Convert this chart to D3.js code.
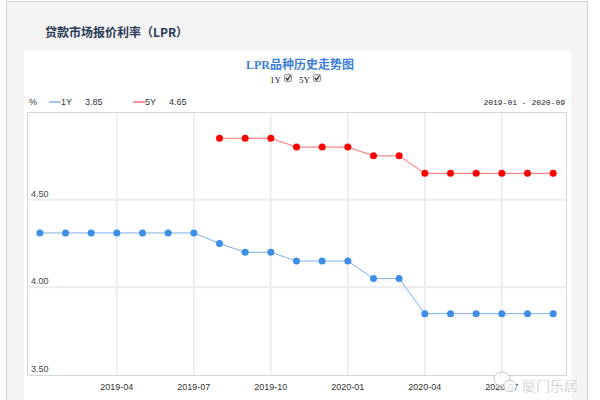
<!DOCTYPE html>
<html>
<head>
<meta charset="utf-8">
<script src="https://cdn.jsdelivr.net/npm/d3@7"></script>
<style>
  body { margin: 0; background: #fff; }
  svg { display: block; }
</style>
</head>
<body>
<div id="chart"></div>
<script>
// months shown on the x axis, one point per month
const months = ['2019-01','2019-02','2019-03','2019-04','2019-05','2019-06','2019-07',
  '2019-08','2019-09','2019-10','2019-11','2019-12','2020-01','2020-02','2020-03',
  '2020-04','2020-05','2020-06','2020-07','2020-08','2020-09'];
const lpr1y = [4.31,4.31,4.31,4.31,4.31,4.31,4.31,4.25,4.20,4.20,4.15,4.15,4.15,4.05,4.05,
  3.85,3.85,3.85,3.85,3.85,3.85];
// 5Y starts in 2019-08
const lpr5y = [null,null,null,null,null,null,null,4.85,4.85,4.85,4.80,4.80,4.80,4.75,4.75,
  4.65,4.65,4.65,4.65,4.65,4.65];
const xTicks = ['2019-04','2019-07','2019-10','2020-01','2020-04','2020-07'];
const yTicks = [3.50, 4.00, 4.50];

const width = 600, height = 400;
const plot = { left: 27, right: 566, top: 112, bottom: 375 };

const svg = d3.select('#chart').append('svg')
    .attr('width', width)
    .attr('height', height);

// page background and frames
svg.append('rect').attr('x', 6.5).attr('y', 1.5).attr('width', 581).attr('height', 410)
    .attr('fill', '#f4f4f4').attr('stroke', '#d6d6d6');
svg.append('rect').attr('x', 24).attr('y', 50).attr('width', 547).attr('height', 360)
    .attr('fill', '#fff');

svg.append('text')
    .attr('x', 45).attr('y', 37)
    .attr('font-family', 'Noto Sans CJK SC')
    .attr('font-size', 12).attr('font-weight', 'bold')
    .attr('fill', '#2b3a55')
    .text('贷款市场报价利率（LPR）');

// chart title
svg.append('text')
    .attr('x', 300).attr('y', 69)
    .attr('text-anchor', 'middle')
    .attr('font-family', 'Liberation Serif, Noto Sans CJK SC')
    .attr('font-size', 12).attr('font-weight', 'bold')
    .attr('fill', '#3b7fd6')
    .text('LPR品种历史走势图');

// checkboxes
const checks = [{ label: '1Y', x: 270 }, { label: '5Y', x: 299 }];
checks.forEach(c => {
    svg.append('text').attr('x', c.x).attr('y', 83)
        .attr('font-family', 'Liberation Serif').attr('font-size', 9).attr('fill', '#222')
        .text(c.label);
    const bx = c.x + 14;
    svg.append('rect').attr('x', bx + 0.5).attr('y', 74.5).attr('width', 7).attr('height', 7)
        .attr('rx', 1.5).attr('fill', '#e6e6e6').attr('stroke', '#999');
    svg.append('path').attr('d', `M${bx + 2},${78} L${bx + 3.5},${80} L${bx + 6.5},${75.5}`)
        .attr('fill', 'none').attr('stroke', '#333').attr('stroke-width', 1.3);
});

// legend row
const legendFont = 'Liberation Sans, Arial, sans-serif';
svg.append('text').attr('x', 29).attr('y', 105).attr('font-family', legendFont)
    .attr('font-size', 9).attr('fill', '#333').text('%');
const legend = [
    { label: '1Y', value: lpr1y[lpr1y.length - 1], color: '#4a90e2', x: 49 },
    { label: '5Y', value: lpr5y[lpr5y.length - 1], color: '#ff2a2a', x: 133 }
];
legend.forEach(l => {
    svg.append('line').attr('x1', l.x).attr('x2', l.x + 12).attr('y1', 102).attr('y2', 102)
        .attr('stroke', l.color).attr('stroke-width', 1);
    svg.append('text').attr('x', l.x + 12).attr('y', 105).attr('font-family', legendFont)
        .attr('font-size', 9).attr('fill', '#333').text(l.label);
    svg.append('text').attr('x', l.x + 36).attr('y', 105).attr('font-family', legendFont)
        .attr('font-size', 9).attr('fill', '#333').text(l.value.toFixed(2));
});
svg.append('text').attr('x', 565).attr('y', 105).attr('text-anchor', 'end')
    .attr('font-family', 'Liberation Mono').attr('font-size', 8).attr('fill', '#222')
    .text(months[0] + ' - ' + months[months.length - 1]);

// scales
const x = d3.scalePoint()
    .domain(months)
    .range([plot.left, plot.right])
    .padding(0.5);
const y = d3.scaleLinear()
    .domain([3.5, 5.0])
    .range([plot.bottom, plot.top]);

// grid lines
svg.append('g')
    .selectAll('line')
    .data(xTicks)
    .enter().append('line')
    .attr('x1', d => x(d)).attr('x2', d => x(d))
    .attr('y1', plot.top).attr('y2', plot.bottom)
    .attr('stroke', '#dcdfe4').attr('stroke-width', 1);
svg.append('g')
    .selectAll('line')
    .data(yTicks.slice(1))
    .enter().append('line')
    .attr('x1', plot.left).attr('x2', plot.right)
    .attr('y1', d => y(d)).attr('y2', d => y(d))
    .attr('stroke', '#ececec').attr('stroke-width', 2);

// frame
svg.append('rect')
    .attr('x', plot.left + 0.5).attr('y', plot.top + 0.5)
    .attr('width', plot.right - plot.left).attr('height', plot.bottom - plot.top)
    .attr('fill', 'none').attr('stroke', '#d3d7df');

// y tick labels sit above their grid line
svg.append('g')
    .selectAll('text')
    .data(yTicks)
    .enter().append('text')
    .attr('x', 31).attr('y', d => y(d) - 3)
    .attr('font-family', legendFont).attr('font-size', 9).attr('fill', '#444')
    .text(d => d.toFixed(2));

// x tick labels
svg.append('g')
    .selectAll('text')
    .data(xTicks)
    .enter().append('text')
    .attr('x', d => x(d)).attr('y', 390)
    .attr('text-anchor', 'middle')
    .attr('font-family', legendFont).attr('font-size', 9).attr('fill', '#333')
    .text(d => d);

// series
const series = [
    { values: lpr1y, line: '#7ab0ef', dot: '#3d8ee8' },
    { values: lpr5y, line: '#ff6b6b', dot: '#ff0000' }
];
const line = d3.line()
    .defined(d => d.v != null)
    .x(d => x(d.m))
    .y(d => y(d.v));
series.forEach(s => {
    const pts = months.map((m, i) => ({ m: m, v: s.values[i] }));
    svg.append('path')
        .datum(pts)
        .attr('d', line)
        .attr('fill', 'none')
        .attr('stroke', s.line)
        .attr('stroke-width', 1);
    svg.append('g')
        .selectAll('circle')
        .data(pts.filter(d => d.v != null))
        .enter().append('circle')
        .attr('cx', d => x(d.m))
        .attr('cy', d => y(d.v))
        .attr('r', 3.5)
        .attr('fill', s.dot);
});

// watermark
const wm = svg.append('g').attr('opacity', 0.8);
wm.append('ellipse').attr('cx', 502).attr('cy', 379).attr('rx', 8).attr('ry', 7)
    .attr('fill', '#fff').attr('stroke', '#bbb').attr('stroke-width', 1);
wm.append('ellipse').attr('cx', 510).attr('cy', 386).attr('rx', 6.5).attr('ry', 5.5)
    .attr('fill', '#fff').attr('stroke', '#bbb').attr('stroke-width', 1);
wm.append('text').attr('x', 522).attr('y', 391)
    .attr('font-family', 'Noto Sans CJK SC').attr('font-size', 14)
    .attr('fill', '#aaa').attr('stroke', '#fff').attr('stroke-width', 0.3)
    .text('厦门乐居');
</script>
</body>
</html>
